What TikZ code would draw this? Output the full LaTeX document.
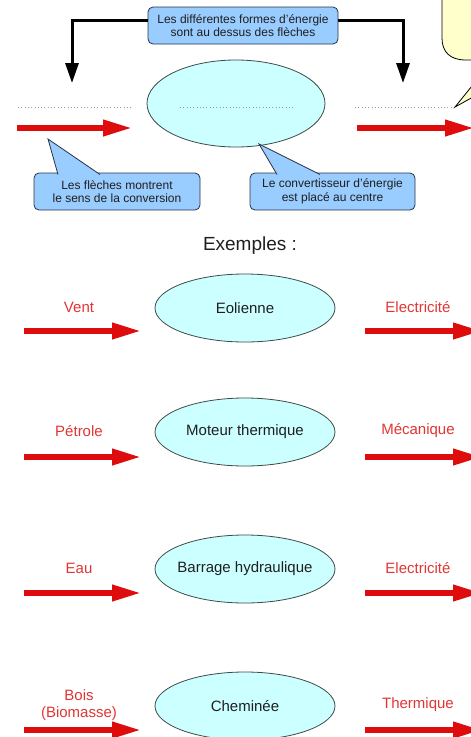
\documentclass[tikz,border=0pt]{standalone}
\usepackage{fontspec}
\setmainfont{Liberation Sans}
\usepackage{xcolor}
\usepackage{tikz}
\usetikzlibrary{arrows.meta}
\usetikzlibrary{shapes.geometric}
\definecolor{bullefond}{RGB}{153,204,255}
\definecolor{bullebord}{RGB}{40,50,70}
\definecolor{jaunefond}{RGB}{255,255,204}
\definecolor{convfond}{RGB}{204,255,255}
\definecolor{convbord}{RGB}{60,75,70}
\definecolor{rouge}{RGB}{222,12,12}
\definecolor{rougetexte}{RGB}{226,52,52}
\colorlet{noirtexte}{black!88}
\newcommand\petit{\fontsize{12}{13.5}\selectfont}
\newcommand\moyen{\fontsize{15}{17}\selectfont}
\newcommand\grand{\fontsize{19}{22}\selectfont}
\tikzstyle{info}=[draw=bullebord,fill=bullefond,line width=.8pt,rounded corners=5pt,inner sep=0pt,align=center,font=\petit,text=noirtexte]
\tikzstyle{convertisseur}=[ellipse,draw=convbord,fill=convfond,line width=.8pt,inner xsep=-25pt,inner ysep=0pt,minimum width=180pt,minimum height=68pt,font=\moyen,text=noirtexte]
\tikzstyle{forme}=[text=rougetexte,font=\moyen,align=center]
\tikzstyle{fleche}=[draw=rouge,line width=6.5pt,-{Triangle[length=30pt,width=15pt]}]
\tikzstyle{renvoi}=[line width=3pt,-{Triangle[length=20pt,width=13pt]}]
\tikzstyle{pointille}=[draw=gray!80,line width=1pt,dash pattern=on 1pt off 2.3pt]

\begin{document}
\begin{tikzpicture}[x=1pt,y=-1pt]
	\useasboundingbox (0,0) rectangle (471,737);
	\clip (0,0) rectangle (471,737);
	% en-tete : la regle
	\node[info,minimum width=190pt,minimum height=37pt] (formes) at (243,25.5) {Les différentes formes d'énergie\\sont au dessus des flèches};
	\coordinate (gauche) at (72,83);
	\coordinate (droite) at (403,83);
	\draw[renvoi] ([yshift=5pt]formes.west) -| (gauche);
	\draw[renvoi] ([yshift=5pt]formes.east) -| (droite);
	\node[convertisseur,minimum width=178pt,minimum height=87pt] (vide) at (236,103.5) {};
	\draw[pointille] (180,107) -- (293,107);
	\draw[pointille] (18,107) -- (132,107);
	\draw[pointille] (355,107) -- (455,107);
	\coordinate (e1) at (17,128);
	\coordinate (e2) at (133,128);
	\coordinate (s1) at (357,128);
	\coordinate (s2) at (475,128);
	\draw[fleche] (e1) -- (e2);
	\draw[fleche] (s1) -- (s2);
	% bulle jaune (coupee)
	\filldraw[fill=jaunefond,draw=black,line width=.8pt] (442,-10) -- (442,38) .. controls (442,52) and (450,60) .. (466,60) -- (493,60) -- (455,107) -- (540,60) -- (560,60) -- (560,-10) -- cycle;
	% bulles bleues
	\node[info,minimum width=166pt,minimum height=37pt] (sens) at (117,191.5) {Les flèches montrent\\le sens de la conversion};
	\node[info,minimum width=165pt,minimum height=37pt] (centre) at (332.5,191.5) {Le convertisseur d'énergie\\est placé au centre};
	\coordinate (sens-pointe) at (48,139);
	\coordinate (sens-a) at (58,174.5);
	\coordinate (sens-b) at (100,174.5);
	\coordinate (centre-pointe) at (259,144);
	\coordinate (centre-a) at (277,174.5);
	\coordinate (centre-b) at (320,174.5);
	\fill[bullefond] (sens-a) -- (sens-pointe) -- (sens-b) -- cycle;
	\draw[bullebord,line width=.8pt] (sens-a) -- (sens-pointe) -- (sens-b);
	\fill[bullefond] (centre-a) -- (centre-pointe) -- (centre-b) -- cycle;
	\draw[bullebord,line width=.8pt] (centre-a) -- (centre-pointe) -- (centre-b);
	% exemples
	\node[font=\grand,text=noirtexte] (exemples) at (250,246) {Exemples :};
	\foreach \yc/\ya/\src/\conv/\dst [count=\i] in {
		308/331/Vent/Eolienne/Electricité,
		432/457/Pétrole/Moteur thermique/Mécanique,
		569/593/Eau/Barrage hydraulique/Electricité,
		706/730/{Bois\\(Biomasse)}/Cheminée/Thermique}{
		\node[convertisseur] (conv\i) at (245,\yc) {\conv};
		\node[forme] (src\i) at (79,\yc-1) {\src};
		\node[forme] (dst\i) at (418,\yc-1) {\dst};
		\coordinate (g\i) at (24,\ya);
		\coordinate (h\i) at (142,\ya);
		\coordinate (d\i) at (365,\ya);
		\coordinate (f\i) at (483,\ya);
		\draw[fleche] (g\i) -- (h\i);
		\draw[fleche] (d\i) -- (f\i);
	}
\end{tikzpicture}
\end{document}
